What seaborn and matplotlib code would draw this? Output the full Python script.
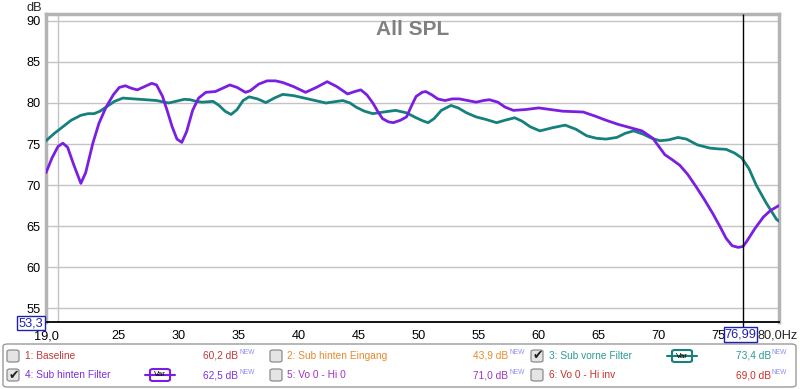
import numpy as np
import pandas as pd
import seaborn as sns
import matplotlib.pyplot as plt
from matplotlib.patches import FancyBboxPatch
from matplotlib.lines import Line2D

# curve 4: Sub hinten Filter (purple)
hinten_hz = [19.0, 19.5, 20.0, 20.4, 20.8, 21.3, 21.9, 22.3, 22.9, 23.4, 24.0, 24.6, 25.1,
             25.6, 26.1, 26.6, 27.2, 27.8, 28.2, 28.7, 29.1, 29.5, 29.9, 30.3, 30.7, 31.2,
             31.7, 32.3, 33.1, 33.7, 34.3, 34.9, 35.6, 36.0, 36.7, 37.4, 38.1, 38.7, 39.6,
             40.6, 41.5, 42.4, 43.2, 44.1, 44.7, 45.2, 45.7, 46.2, 46.6, 47.0, 47.5, 47.9,
             48.5, 49.0, 49.4, 49.8, 50.3, 50.6, 51.1, 51.6, 52.2, 52.8, 53.4, 54.1, 54.8,
             55.4, 55.9, 56.6, 57.2, 57.9, 58.9, 60.0, 61.0, 62.0, 63.7, 64.7, 65.6, 66.6,
             67.6, 68.6, 69.5, 70.0, 70.5, 71.1, 71.75, 72.4, 73.1, 73.8, 74.5, 75.1, 75.6,
             76.1, 76.6, 77.0, 77.3, 78.0, 78.7, 79.3, 80.0]
hinten_db = [71.5, 73.3, 74.7, 75.1, 74.6, 72.5, 70.2, 71.5, 75.1, 77.5, 79.5, 81.0, 81.9,
             82.1, 81.8, 81.6, 82.0, 82.4, 82.2, 80.8, 79.0, 77.1, 75.6, 75.2, 76.5, 79.1,
             80.6, 81.3, 81.4, 81.8, 82.2, 81.9, 81.3, 81.5, 82.3, 82.7, 82.7, 82.5, 82.0,
             81.3, 81.9, 82.6, 82.0, 81.1, 81.4, 81.6, 81.0, 80.0, 79.0, 78.1, 77.7, 77.6,
             77.9, 78.3, 79.6, 80.8, 81.3, 81.4, 81.0, 80.5, 80.3, 80.5, 80.5, 80.3, 80.1,
             80.3, 80.4, 80.1, 79.5, 79.1, 79.2, 79.4, 79.2, 79.0, 78.9, 78.4, 77.9, 77.4,
             77.0, 76.6, 75.7, 74.7, 73.7, 73.1, 72.4, 71.3, 69.8, 68.2, 66.5, 64.9, 63.5,
             62.6, 62.4, 62.5, 63.1, 64.7, 66.1, 66.9, 67.5]

# curve 3: Sub vorne Filter (teal)
vorne_hz = [19.0, 19.7, 20.4, 21.1, 21.9, 22.5, 23.0, 23.5, 24.0, 24.7, 25.4, 26.3, 27.3,
            28.2, 29.2, 29.8, 30.5, 31.0, 31.5, 32.0, 32.9, 33.4, 33.9, 34.4, 34.9, 35.4,
            35.9, 36.6, 37.3, 38.0, 38.7, 39.6, 40.5, 41.4, 42.3, 43.0, 43.7, 44.3, 44.8,
            45.5, 46.2, 47.1, 48.1, 49.0, 49.8, 50.4, 50.8, 51.3, 51.9, 52.7, 53.3, 54.0,
            54.8, 55.6, 56.5, 57.2, 58.0, 58.6, 59.3, 60.1, 61.2, 62.2, 63.1, 64.0, 64.8,
            65.6, 66.5, 67.2, 67.9, 68.7, 69.4, 70.1, 70.8, 71.6, 72.3, 73.2, 74.25, 75.0,
            75.6, 76.3, 76.9, 77.5, 78.1, 78.9, 79.8, 80.0]
vorne_db = [75.4, 76.3, 77.1, 77.9, 78.5, 78.7, 78.7, 79.0, 79.5, 80.2, 80.6, 80.5, 80.4,
            80.3, 80.0, 80.2, 80.45, 80.4, 80.2, 80.1, 80.2, 79.7, 79.0, 78.6, 79.2, 80.3,
            80.75, 80.5, 80.05, 80.6, 81.05, 80.9, 80.6, 80.3, 80.0, 80.15, 80.3, 80.0, 79.5,
            79.0, 78.7, 78.9, 79.1, 78.8, 78.2, 77.8, 77.6, 78.1, 79.1, 79.7, 79.4, 78.8,
            78.3, 78.0, 77.6, 77.9, 78.2, 77.8, 77.1, 76.6, 77.0, 77.3, 76.8, 76.0, 75.7,
            75.6, 75.8, 76.3, 76.6, 76.2, 75.7, 75.4, 75.5, 75.8, 75.6, 74.9, 74.5, 74.4,
            74.35, 73.9, 73.3, 72.0, 70.0, 67.9, 65.8, 65.6]

x_ticks = [19, 25, 30, 35, 40, 45, 50, 55, 60, 65, 70, 75]
x_labels = ['19,0', '25', '30', '35', '40', '45', '50', '55', '60', '65', '70', '75']
y_ticks = [55, 60, 65, 70, 75, 80, 85, 90]

legend_labels = ['1: Baseline', '2: Sub hinten Eingang', '3: Sub vorne Filter',
                 '4: Sub hinten Filter', '5: Vo 0 - Hi 0', '6: Vo 0 - Hi inv']
legend_values = ['60,2 dB', '43,9 dB', '73,4 dB', '62,5 dB', '71,0 dB', '69,0 dB']
legend_colors = ['#c03838', '#e8892e', '#2a9a96', '#7b30e0', '#a032c8', '#c83028']
legend_checked = [False, False, True, True, False, False]
cursor_hz = 76.99

purple = '#7a1fe2'
teal = '#16807c'

sns.set_style('white')
plt.rcParams['font.family'] = ['Liberation Sans', 'DejaVu Sans']

fig = plt.figure(figsize=(8, 3.89), dpi=100)
W, H = 800, 389
ax = fig.add_axes([46 / W, 1 - 322 / H, 733 / W, 308 / H])

df_v = pd.DataFrame({'Hz': vorne_hz, 'dB': vorne_db})
df_h = pd.DataFrame({'Hz': hinten_hz, 'dB': hinten_db})
sns.lineplot(data=df_v, x='Hz', y='dB', color=teal, lw=2.0, estimator=None, ax=ax, zorder=3)
sns.lineplot(data=df_h, x='Hz', y='dB', color=purple, lw=2.0, estimator=None, ax=ax, zorder=4)

ax.set_xlim(19, 80)
ax.set_ylim(53.3, 90.85)
ax.set_xlabel('')
ax.set_ylabel('')
ax.set_xticks(x_ticks)
ax.set_xticklabels(x_labels)
ax.set_yticks(y_ticks)
ax.set_xticks([20, 25, 30, 35, 40, 45, 50, 55, 60, 65, 70, 75], minor=True)
ax.tick_params(axis='both', which='both', length=0, labelsize=9.2, colors='black')
ax.tick_params(axis='x', pad=6)
ax.tick_params(axis='y', pad=4)
ax.grid(True, which='minor', axis='x', color='#c4c4c4', lw=1)
ax.grid(True, which='major', axis='y', color='#c4c4c4', lw=1)
for s in ['left', 'top', 'right']:
    ax.spines[s].set_color('#b4b4b4')
    ax.spines[s].set_linewidth(2.5)
ax.spines['bottom'].set_color('black')
ax.spines['bottom'].set_linewidth(1.3)

# cursor
ax.vlines(cursor_hz, 52.6, 90.85, color='black', lw=1, clip_on=False, zorder=6)

ax.text(0.5, 0.98, 'All SPL', transform=ax.transAxes, ha='center', va='top',
        fontsize=15, fontweight='bold', color='#808080')

def fx(x):
    return x / W

def fy(y):
    return 1 - y / H

fig.text(fx(42), fy(8), 'dB', ha='right', va='center', fontsize=9.2)
fig.text(fx(798), fy(336), '80,0Hz', ha='right', va='center', fontsize=9.2)
fig.text(fx(31), fy(323), '53,3', ha='center', va='center', fontsize=9.2, color='#2020b0',
         bbox=dict(boxstyle='square,pad=0.1', fc='white', ec='#2020b0', lw=1))
fig.text(fx(740.5), fy(334.5), '76,99', ha='center', va='center', fontsize=9.2, color='#2020b0',
         bbox=dict(boxstyle='square,pad=0.08', fc='white', ec='#2020b0', lw=1), zorder=10)

# legend panel
fig.patches.append(FancyBboxPatch((fx(3), fy(387)), 793 / W, 43 / H,
                                  boxstyle='round,pad=0,rounding_size=0.006',
                                  transform=fig.transFigure, fc='white', ec='#9a9a9a', lw=1))

box_x = [7, 270, 531]
text_x = [25, 287, 549]
value_x = [238, 508, 771]
row_y = [356, 375]
var_x = {2: 682, 3: 160}

for i, lab in enumerate(legend_labels):
    col, row = i % 3, i // 3
    yc = row_y[row]
    c = legend_colors[i]
    fig.patches.append(FancyBboxPatch((fx(box_x[col]), fy(yc + 6)), 12 / W, 12 / H,
                                      boxstyle='round,pad=0,rounding_size=0.004',
                                      transform=fig.transFigure, fc='#e4e4e4', ec='#8c8c8c', lw=0.9))
    if legend_checked[i]:
        fig.text(fx(box_x[col] + 6.5), fy(yc), '\u2714', ha='center', va='center',
                 fontsize=9, color='#202020', family=['DejaVu Sans'])
    fig.text(fx(text_x[col]), fy(yc), lab, ha='left', va='center', fontsize=7.3, color=c)
    fig.text(fx(value_x[col]), fy(yc), legend_values[i], ha='right', va='center',
             fontsize=7.3, color=c)
    fig.text(fx(value_x[col] + 1), fy(yc - 3), 'NEW', ha='left', va='center',
             fontsize=4.8, color='#8c8cf8')
    if i in var_x:
        vx = var_x[i]
        lc = purple if i == 3 else teal
        fig.lines.append(Line2D([fx(vx - 15), fx(vx + 15)], [fy(yc), fy(yc)],
                                transform=fig.transFigure, color=lc, lw=1.5))
        fig.patches.append(FancyBboxPatch((fx(vx - 10), fy(yc + 6)), 20 / W, 12 / H,
                                          boxstyle='round,pad=0,rounding_size=0.004',
                                          transform=fig.transFigure, fc='white', ec=lc, lw=1.5))
        fig.text(fx(vx), fy(yc), 'Var', ha='center', va='center', fontsize=5.8, color='black')

plt.savefig('out.png', dpi=100)
